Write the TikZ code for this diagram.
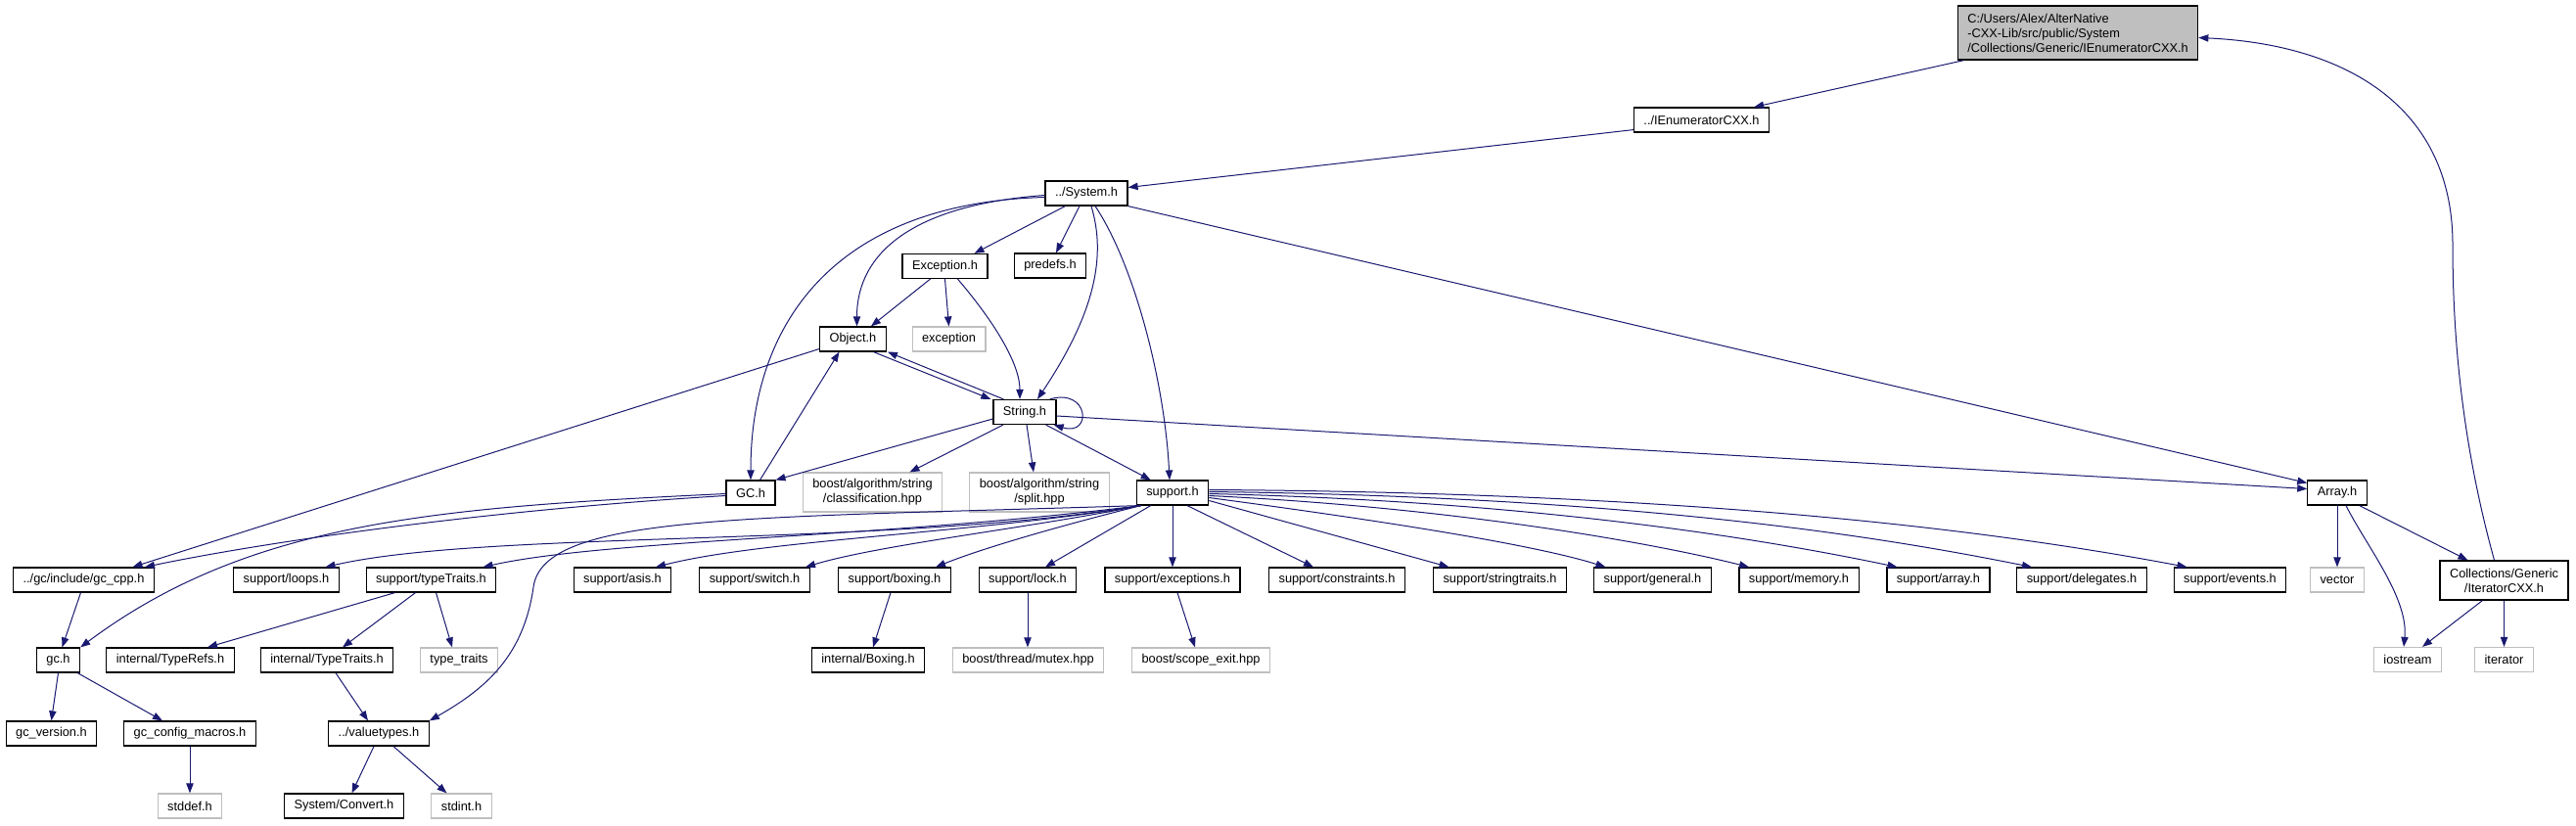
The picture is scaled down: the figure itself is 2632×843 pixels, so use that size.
\documentclass[tikz,border=0pt]{standalone}
\usepackage{fontspec}
\setmainfont{Liberation Sans}
\usetikzlibrary{arrows.meta,calc}
\definecolor{edgeblue}{HTML}{191970}
\definecolor{missgray}{HTML}{BFBFBF}
\tikzset{
  hdr/.style={draw=black, fill=white, line width=0.9pt, inner xsep=7.5pt, inner ysep=0pt,
    minimum height=18.75pt, align=center, font=\fontsize{9.6}{11.25}\selectfont},
  ext/.style={hdr, draw=missgray},
  tall/.style={minimum height=30pt},
  top/.style={hdr, fill=missgray, align=left, minimum height=41.25pt},
  edge/.style={draw=edgeblue, line width=0.75pt, -{Triangle[length=7.5pt,width=5.5pt]}}
}
\begin{document}
\begin{tikzpicture}[x=0.75pt,y=-0.75pt]
\useasboundingbox (0,0) rectangle (2632,843);
% top of the graph
\node[top] (root) at (2123,33.5) {C:/Users/Alex/AlterNative\\-CXX-Lib/src/public/System\\/Collections/Generic/IEnumeratorCXX.h};
\node[hdr] (ienum) at (1738.5,122.5) {../IEnumeratorCXX.h};
\node[hdr] (sys) at (1110,197.5) {../System.h};
\node[hdr] (exc) at (965.5,272) {Exception.h};
\node[hdr] (predefs) at (1073,271.5) {predefs.h};
\node[hdr] (obj) at (871.5,346.5) {Object.h};
\node[ext] (excstd) at (969.5,346.5) {exception};
\node[hdr] (str) at (1047,421) {String.h};
\node[hdr] (gch) at (767,503.5) {GC.h};
\node[ext,tall] (classif) at (891.5,503) {boost/algorithm/string\\/classification.hpp};
\node[ext,tall] (split) at (1062,503) {boost/algorithm/string\\/split.hpp};
\node[hdr] (support) at (1198,503.5) {support.h};
\node[hdr] (array) at (2388,503.5) {Array.h};
% row of support headers
\node[hdr] (gccpp) at (85.5,592.5) {../gc/include/gc\_cpp.h};
\foreach \nm/\x/\txt in {loops/292.5/loops, sttraits/440.5/typeTraits, asis/636/asis,
    switch/771/switch, boxing/914/boxing, lock/1050/lock, sexc/1198/exceptions,
    constr/1366/constraints, strtr/1532.5/stringtraits, general/1688.5/general,
    memory/1838/memory, sarray/1980.5/array, deleg/2127/delegates, events/2278.5/events}
  \node[hdr] (\nm) at (\x,592.5) {support/\txt.h};
\node[ext] (vector) at (2388,592.5) {vector};
\node[hdr,tall] (iter) at (2558.5,593) {Collections/Generic\\/IteratorCXX.h};
% lower rows
\node[hdr] (gcc) at (59.5,674.5) {gc.h};
\node[hdr] (typerefs) at (174,674.5) {internal/TypeRefs.h};
\node[hdr] (itraits) at (334,674.5) {internal/TypeTraits.h};
\node[ext] (typetr) at (469,674.5) {type\_traits};
\node[hdr] (iboxing) at (887,674.5) {internal/Boxing.h};
\node[ext] (mutex) at (1050.5,674.5) {boost/thread/mutex.hpp};
\node[ext] (scope) at (1227,674.5) {boost/scope\_exit.hpp};
\node[ext] (iostream) at (2460,674) {iostream};
\node[ext] (iterator) at (2558.5,674) {iterator};
\node[hdr] (gcver) at (52.5,749.5) {gc\_version.h};
\node[hdr] (gcconf) at (194,749.5) {gc\_config\_macros.h};
\node[hdr] (valtypes) at (387,749.5) {../valuetypes.h};
\node[ext] (stddef) at (194,823.5) {stddef.h};
\node[hdr] (convert) at (351.5,823.5) {System/Convert.h};
\node[ext] (stdint) at (471.5,823.5) {stdint.h};
% edges
\draw[edge] ($(root.south west)+(7,0)$) -- ($(ienum.north east)+(-16,0)$);
\draw[edge] ($(ienum.south west)+(0,-3)$) -- ($(sys.east)+(0,-6)$);
\draw[edge] ($(sys.west)+(0,4)$) .. controls +(-215,6) and +(0,-160) .. (gch.north);
\draw[edge] ($(sys.west)+(0,2)$) .. controls +(-135,10) and +(0,-75) .. ($(obj.north)+(4,0)$);
\draw[edge] ($(sys.south west)+(21,0)$) -- ($(exc.north east)+(-14,0)$);
\draw[edge] ($(sys.south)+(-7,0)$) -- ($(predefs.north)+(6,0)$);
\draw[edge] ($(sys.south)+(5,0)$) .. controls +(15,50) and +(60,-90) .. ($(str.north)+(13,0)$);
\draw[edge] ($(sys.south)+(9,0)$) .. controls +(40,60) and +(-5,-100) .. ($(support.north)+(-3,0)$);
\draw[edge] (sys.south east) -- ($(array.west)+(0,-10)$);
\draw[edge] ($(exc.south)+(-15,0)$) -- ($(obj.north east)+(-16,0)$);
\draw[edge] (exc.south) -- (excstd.north);
\draw[edge] ($(exc.south)+(13,0)$) .. controls +(30,35) and +(0,-40) .. ($(str.north)+(-5,0)$);
\draw[edge] ($(obj.south)+(21,0)$) -- ($(str.north west)+(-2,0)$);
\draw[edge] ($(str.north west)+(11,0)$) -- ($(obj.south east)+(1,0)$);
\draw[edge] ($(obj.west)+(0,10)$) -- ($(gccpp.north)+(50,0)$);
\draw[edge] ($(str.north east)+(-7,0)$) .. controls +(40,-12) and +(40,12) .. ($(str.south east)+(-3,0)$);
\draw[edge] ($(str.west)+(0,7)$) -- (gch.north east);
\draw[edge] ($(str.south)+(-22,0)$) -- ($(classif.north)+(38,0)$);
\draw[edge] ($(str.south)+(2,0)$) -- ($(split.north)+(-6,0)$);
\draw[edge] ($(str.south east)+(-11,0)$) -- ($(support.north west)+(15,0)$);
\draw[edge] ($(str.east)+(0,4)$) -- ($(array.west)+(0,-4)$);
\draw[edge] ($(gch.north east)+(-16,0)$) -- ($(obj.south)+(-14,0)$);
\draw[edge] ($(gch.west)+(0,3)$) .. controls +(-250,15) and +(120,-25) .. ($(gccpp.north east)+(-10,0)$);
\draw[edge] ($(gch.west)+(0,1)$) .. controls +(-291,14) and +(174,-130) .. (gcc.north east);
\draw[edge] ($(gccpp.south)+(-3,0)$) -- ($(gcc.north)+(4,0)$);
\draw[edge] (gcc.south) -- (gcver.north);
\draw[edge] ($(gcc.south east)+(-3,0)$) -- ($(gcconf.north)+(-28,0)$);
\draw[edge] (gcconf) -- (stddef);
% support.h fans out
\foreach \nm/\dx/\ax/\ay/\bx/\by in {loops/40/-265/43/167/-38, sttraits/53/-265/33/126/-28,
    asis/34/-165/28/110/-28, switch/52/-115/23/77/-23, boxing/42/-80/20/50/-20}
  \draw[edge] ($(support.south west)+(5,0)$) .. controls +(\ax,\ay) and +(\bx,\by) .. ($(\nm.north)+(\dx,0)$);
\draw[edge] ($(support.south west)+(15,0)$) -- ($(lock.north)+(18,0)$);
\draw[edge] (support.south) -- (sexc.north);
\draw[edge] ($(support.south)+(15,0)$) -- ($(constr.north)+(-24,0)$);
\draw[edge] ($(support.east)+(0,8)$) -- ($(strtr.north)+(-52,0)$);
\foreach \nm/\dy/\dx/\ax/\ay/\bx/\by in {general/5/-48/150/20/-80/-25, memory/3/-51/250/12/-100/-25,
    sarray/1/-42/350/8/-120/-25, deleg/-1/-51/450/5/-140/-28, events/-3/-44/530/3/-170/-32}
  \draw[edge] ($(support.east)+(0,\dy)$) .. controls +(\ax,\ay) and +(\bx,\by) .. ($(\nm.north)+(\dx,0)$);
\coordinate (vtbend) at (545,600);
\draw[edge] ($(support.south west)+(3,0)$) .. controls +(-403,13) and +(10,-75) .. (vtbend)
  .. controls +(-10,70) and +(58,-33) .. (valtypes.north east);
\draw[edge] ($(sttraits.south west)+(30,0)$) -- ($(typerefs.north)+(38,0)$);
\draw[edge] ($(sttraits.south)+(-16,0)$) -- ($(itraits.north)+(16,0)$);
\draw[edge] ($(sttraits.south)+(5,0)$) -- ($(typetr.north)+(-7,0)$);
\draw[edge] ($(itraits.south)+(9,0)$) -- ($(valtypes.north)+(-11,0)$);
\draw[edge] ($(valtypes.south)+(-5,0)$) -- ($(convert.north)+(8,0)$);
\draw[edge] ($(valtypes.south)+(15,0)$) -- ($(stdint.north)+(-15,0)$);
\draw[edge] ($(boxing.south)+(-4,0)$) -- ($(iboxing.north)+(5,0)$);
\draw[edge] (lock.south) -- (lock.south |- mutex.north);
\draw[edge] ($(sexc.south)+(5,0)$) -- ($(scope.north)+(-6,0)$);
% Array.h and the way back up
\draw[edge] (array) -- (vector);
\draw[edge] ($(array.south)+(9,0)$) .. controls +(20,40) and +(5,-50) .. ($(iostream.north)+(-4,0)$);
\draw[edge] ($(array.south east)+(-8,0)$) -- ($(iter.north west)+(29,0)$);
\draw[edge] ($(iter.south west)+(44,0)$) -- ($(iostream.north)+(15,0)$);
\draw[edge] (iter.south) -- (iterator.north);
\coordinate (loopup) at (2506,250);
\draw[edge] ($(iter.north)+(-10,0)$) .. controls +(-34,-123) and +(0,90) .. (loopup)
  .. controls +(0,-140) and +(152,7) .. ($(root.east)+(0,5)$);
\end{tikzpicture}
\end{document}
